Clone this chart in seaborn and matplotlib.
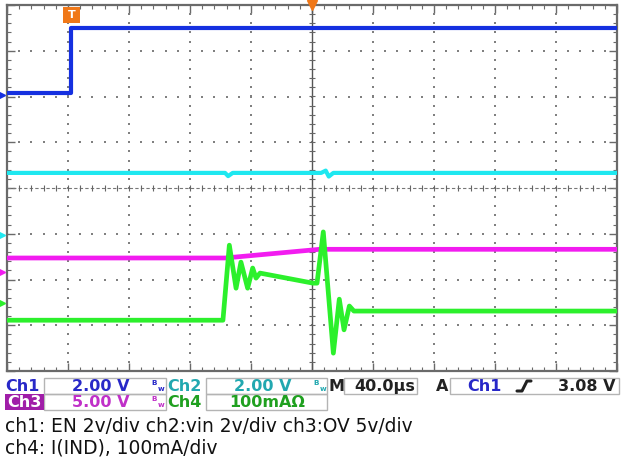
import numpy as np
import pandas as pd
import matplotlib
matplotlib.use("Agg")
import matplotlib.pyplot as plt
from matplotlib.lines import Line2D
from matplotlib.patches import Rectangle
import seaborn as sns

# ---- trace data: time in microseconds, amplitude in screen divisions ----
ch1_t = [-200, -158, -158, 200]
ch1_y = [2.08, 2.08, 3.49, 3.49]

ch2_t = [-200, -57, -55, -52, 6, 9, 11, 14, 200]
ch2_y = [0.33, 0.33, 0.26, 0.33, 0.33, 0.38, 0.25, 0.33, 0.33]

ch3_t = [-200, -57, 5, 200]
ch3_y = [-1.53, -1.53, -1.34, -1.34]

ch4_t = [-200, -58.4, -54.2, -49.8, -46.6, -42.2, -38.9, -36.7, -34.1, 0.7,
         3.3, 7.4, 14.0, 17.9, 21.0, 24.5, 27.5, 200]
ch4_y = [-2.89, -2.89, -1.25, -2.19, -1.62, -2.19, -1.75, -1.97, -1.86, -2.08,
         -2.08, -0.96, -3.61, -2.43, -3.10, -2.58, -2.69, -2.69]

# reference markers on the left edge (divisions)
ref_levels = {"ch1": 2.03, "ch2": -1.03, "ch3": -1.84, "ch4": -2.51}

trace_colors = {"ch1": "#1530e0", "ch2": "#1ee8f0", "ch3": "#f21cf0", "ch4": "#2cf02c"}

status_row1 = ["Ch1", "2.00 V", "Ch2", "2.00 V", "M", "40.0\u00b5s", "A", "Ch1", "3.08 V"]
status_row2 = ["Ch3", "5.00 V", "Ch4", "100mA\u03a9"]
caption = ["ch1: EN 2v/div ch2:vin 2v/div ch3:OV 5v/div",
           "ch4: I(IND), 100mA/div"]

sns.set_theme(style="white")
plt.rcParams["font.family"] = ["DejaVu Sans"]

W, H = 623, 461
fig = plt.figure(figsize=(W / 100, H / 100), dpi=100)
fig.patch.set_facecolor("white")


def fx(px):
    return px / W


def fy(py):
    return 1 - py / H


# screen area
x0, x1, y0, y1 = 7, 617, 5, 371
ax = fig.add_axes([fx(x0), fy(y1), fx(x1) - fx(x0), fy(y0) - fy(y1)])
ax.set_xlim(-200, 200)
ax.set_ylim(-4, 4)
ax.set_facecolor("white")

# dotted graticule
grid_c = "#808080"
minor_x = np.arange(-200, 200.1, 8)
minor_y = np.arange(-4, 4.01, 0.2)
for gy in range(-3, 4):
    if gy == 0:
        continue
    ax.scatter(minor_x, np.full_like(minor_x, gy), s=2.0, color=grid_c, marker="s",
               linewidths=0, zorder=1)
for gx in range(-160, 200, 40):
    if gx == 0:
        continue
    ax.scatter(np.full_like(minor_y, gx), minor_y, s=2.0, color=grid_c, marker="s",
               linewidths=0, zorder=1)

# centre cross with tick marks
ax.axvline(0, color="#555555", lw=1.0, zorder=1)
ax.axhline(0, color="#777777", lw=0.8, ls=(0, (3, 2)), zorder=1)
ax.scatter(minor_x, np.zeros_like(minor_x), s=14, marker="|", color="#666666",
           linewidths=0.8, zorder=1)
ax.scatter(np.zeros_like(minor_y), minor_y, s=14, marker="_", color="#666666",
           linewidths=0.8, zorder=1)

# frame with inward ticks on every side
for s in ax.spines.values():
    s.set_color("#6a6a6a")
    s.set_linewidth(1.6)
ax.set_xticks(np.arange(-200, 201, 40))
ax.set_yticks(np.arange(-4, 5, 1))
ax.set_xticks(minor_x, minor=True)
ax.set_yticks(minor_y, minor=True)
ax.tick_params(which="both", direction="in", top=True, right=True, bottom=True, left=True,
               labelbottom=False, labelleft=False, color="#6a6a6a")
ax.tick_params(which="major", length=6, width=1)
ax.tick_params(which="minor", length=3, width=0.8)

# traces
traces = [("ch1", ch1_t, ch1_y, 3.0), ("ch2", ch2_t, ch2_y, 3.0),
          ("ch3", ch3_t, ch3_y, 3.4), ("ch4", ch4_t, ch4_y, 3.4)]
for name, t, y, lw in traces:
    df = pd.DataFrame({"t": t, "v": y})
    sns.lineplot(data=df, x="t", y="v", ax=ax, estimator=None, sort=False,
                 color=trace_colors[name], lw=lw, zorder=3)
ax.set_xlabel("")
ax.set_ylabel("")

# channel reference markers on the left edge
for name, lvl in ref_levels.items():
    ax.plot([-203], [lvl], marker=">", ms=4, color=trace_colors[name], clip_on=False,
            zorder=5)

# trigger markers
ax.add_patch(Rectangle((fx(63), fy(23)), fx(17), 16 / H, transform=fig.transFigure,
                       facecolor="#f07818", edgecolor="none", zorder=6, clip_on=False))
fig.text(fx(71.5), fy(15), "T", color="white", fontsize=8, fontweight="bold",
         ha="center", va="center", zorder=7)
ax.plot([0], [4.0], marker="v", ms=7, color="#f07818", clip_on=False, zorder=6)

# ---- status bar ----
box_c = "#b4b4b4"


def box(xa, xb, ya, yb):
    fig.add_artist(Rectangle((fx(xa), fy(yb)), fx(xb) - fx(xa), (yb - ya) / H,
                             transform=fig.transFigure, facecolor="none",
                             edgecolor=box_c, lw=1.0))


def label(px, py, s, color, ha="left", size=11.5, weight="bold"):
    fig.text(fx(px), fy(py), s, color=color, ha=ha, va="center", fontsize=size,
             fontweight=weight)


def bw_mark(px, py, color):
    # bandwidth-limit glyph: small "B" raised over a small "w"
    fig.text(fx(px), fy(py), r"${}^{\mathbf{B}}{}_{\mathbf{w}}$", color=color,
             ha="center", va="center", fontsize=7.5)


r1, r2 = 386, 402
blue_t, teal_t, mag_t, green_t = "#2828c8", "#22a8b0", "#c030c8", "#20a020"

box(44, 166, 378, 394)
box(206, 327, 378, 394)
box(344, 417, 378, 394)
box(450, 619, 378, 394)
box(44, 166, 394, 410)
box(206, 327, 394, 410)

label(5, r1, status_row1[0], blue_t)
label(129, r1, status_row1[1], blue_t, ha="right")
bw_mark(158, r1, blue_t)
label(167, r1, status_row1[2], teal_t)
label(291, r1, status_row1[3], teal_t, ha="right")
bw_mark(320, r1, teal_t)
label(329, r1, status_row1[4], "#222222")
label(415, r1, status_row1[5], "#222222", ha="right")
label(436, r1, status_row1[6], "#222222")
label(467, r1, status_row1[7], blue_t)
fig.add_artist(Line2D([fx(517), fx(522), fx(527), fx(531)],
                      [fy(391), fy(391), fy(381), fy(381)],
                      transform=fig.transFigure, color="#222222", lw=2.2))
label(616, r1, status_row1[8], "#222222", ha="right")

fig.add_artist(Rectangle((fx(5), fy(410)), fx(39), 16 / H, transform=fig.transFigure,
                         facecolor="#a01ea8", edgecolor="none"))
label(24.5, r2, status_row2[0], "white", ha="center")
label(129, r2, status_row2[1], mag_t, ha="right")
bw_mark(158, r2, mag_t)
label(167, r2, status_row2[2], green_t)
label(229, r2, status_row2[3], green_t)

# caption lines
label(5, 426, caption[0], "#111111", size=13.4, weight="normal")
label(5, 448, caption[1], "#111111", size=13.4, weight="normal")

fig.savefig("out.png", dpi=100, facecolor="white")
